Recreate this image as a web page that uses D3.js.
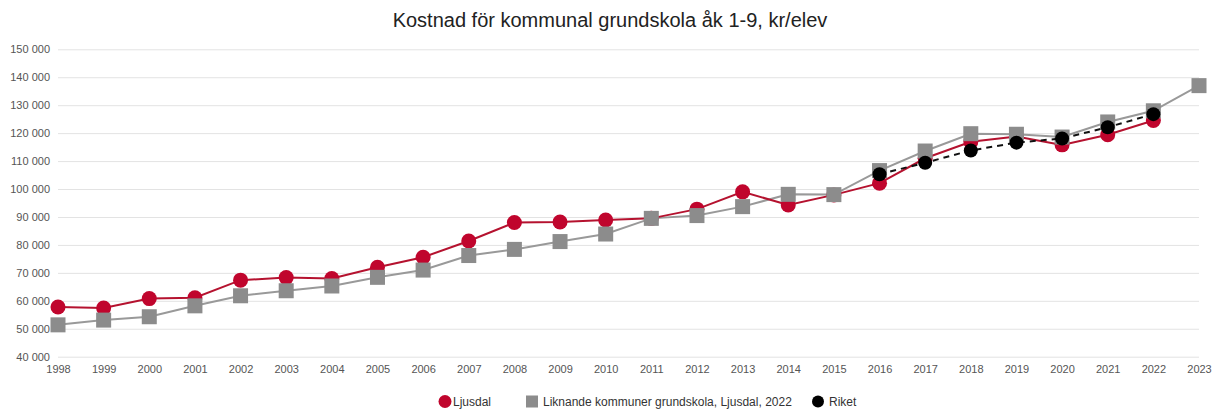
<!DOCTYPE html>
<html>
<head>
<meta charset="utf-8">
<script src="https://cdn.jsdelivr.net/npm/d3@7"></script>
<style>
  body { margin: 0; background: #fff; }
  svg { display: block; font-family: "Liberation Sans", Arial, sans-serif; }
</style>
</head>
<body>
<svg id="chart"></svg>
<script>
// Data
const years = ["1998","1999","2000","2001","2002","2003","2004","2005","2006","2007","2008","2009","2010","2011","2012","2013","2014","2015","2016","2017","2018","2019","2020","2021","2022","2023"];
const ljusdal = [57800,57400,60800,61100,67400,68300,68000,72000,75600,81400,88000,88200,88900,89500,92800,99000,94300,97900,102100,111000,116900,118800,115800,119400,124500,null];
const liknande = [51400,53100,54300,58200,61800,63600,65300,68400,71000,76200,78400,81200,83900,89500,90500,93700,98100,98000,106600,113600,119800,119600,118600,124000,128000,137000];
const riket = [null,null,null,null,null,null,null,null,null,null,null,null,null,null,null,null,null,null,105300,109400,113800,116600,118100,122100,126800,null];
const yTicks = [40000,50000,60000,70000,80000,90000,100000,110000,120000,130000,140000,150000];

const width = 1215, height = 410;
const plotLeft = 58, plotRight = 1199, plotTop = 49.3, plotBottom = 356.7;

const svg = d3.select("#chart").attr("width", width).attr("height", height);

// title
svg.append("text")
   .attr("x", 610).attr("y", 27)
   .attr("text-anchor", "middle")
   .attr("font-size", 20)
   .attr("fill", "#222")
   .text("Kostnad för kommunal grundskola åk 1-9, kr/elev");

const x = d3.scalePoint().domain(years).range([plotLeft, plotRight]);
const y = d3.scaleLinear().domain([40000, 150000]).range([plotBottom, plotTop]);

const fmt = v => d3.format(",")(v).replace(/,/g, " ");

// y axis with gridlines
const yAxis = svg.append("g")
   .attr("transform", `translate(${plotLeft},0)`)
   .call(d3.axisLeft(y).tickValues(yTicks).tickFormat(fmt).tickSize(-(plotRight - plotLeft)).tickPadding(8));
yAxis.select(".domain").remove();
yAxis.selectAll(".tick line").attr("stroke", "#e3e3e3").attr("stroke-width", 1);
yAxis.selectAll(".tick text").attr("font-size", 11).attr("fill", "#555").attr("font-family", "Liberation Sans, Arial, sans-serif");

// x axis
const xAxis = svg.append("g")
   .attr("transform", `translate(0,${plotBottom})`)
   .call(d3.axisBottom(x).tickSize(0).tickPadding(9));
xAxis.select(".domain").remove();
xAxis.selectAll(".tick text").attr("font-size", 11).attr("fill", "#555").attr("font-family", "Liberation Sans, Arial, sans-serif");

const line = d3.line()
   .defined(d => d[1] != null)
   .x(d => x(d[0]))
   .y(d => y(d[1]));

const pairs = arr => years.map((yr, i) => [yr, arr[i]]);

// Liknande kommuner (gray squares)
svg.append("path")
   .datum(pairs(liknande))
   .attr("fill", "none").attr("stroke", "#999").attr("stroke-width", 2)
   .attr("d", line);

// Ljusdal (red circles)
svg.append("path")
   .datum(pairs(ljusdal))
   .attr("fill", "none").attr("stroke", "#b5122f").attr("stroke-width", 2)
   .attr("d", line);

svg.selectAll(".red")
   .data(pairs(ljusdal).filter(d => d[1] != null))
   .enter().append("circle")
   .attr("cx", d => x(d[0])).attr("cy", d => y(d[1]))
   .attr("r", 7.5).attr("fill", "#c0052d");

svg.selectAll(".gray")
   .data(pairs(liknande))
   .enter().append("rect")
   .attr("x", d => x(d[0]) - 7.5).attr("y", d => y(d[1]) - 7.5)
   .attr("width", 15).attr("height", 15)
   .attr("fill", "#8c8c8c");

// Riket (black dashed)
svg.append("path")
   .datum(pairs(riket))
   .attr("fill", "none").attr("stroke", "#111").attr("stroke-width", 2)
   .attr("stroke-dasharray", "6,5")
   .attr("d", line);

svg.selectAll(".black")
   .data(pairs(riket).filter(d => d[1] != null))
   .enter().append("circle")
   .attr("cx", d => x(d[0])).attr("cy", d => y(d[1]))
   .attr("r", 7).attr("fill", "#000");

// legend
const legend = svg.append("g").attr("font-size", 12).attr("fill", "#333");
legend.append("circle").attr("cx", 445).attr("cy", 401.5).attr("r", 6.5).attr("fill", "#c0052d");
legend.append("text").attr("x", 453).attr("y", 406).text("Ljusdal");
legend.append("rect").attr("x", 526).attr("y", 395.5).attr("width", 12).attr("height", 12).attr("fill", "#8c8c8c");
legend.append("text").attr("x", 543).attr("y", 406).text("Liknande kommuner grundskola, Ljusdal, 2022");
legend.append("circle").attr("cx", 818).attr("cy", 401.5).attr("r", 6).attr("fill", "#000");
legend.append("text").attr("x", 829).attr("y", 406).text("Riket");
</script>
</body>
</html>
